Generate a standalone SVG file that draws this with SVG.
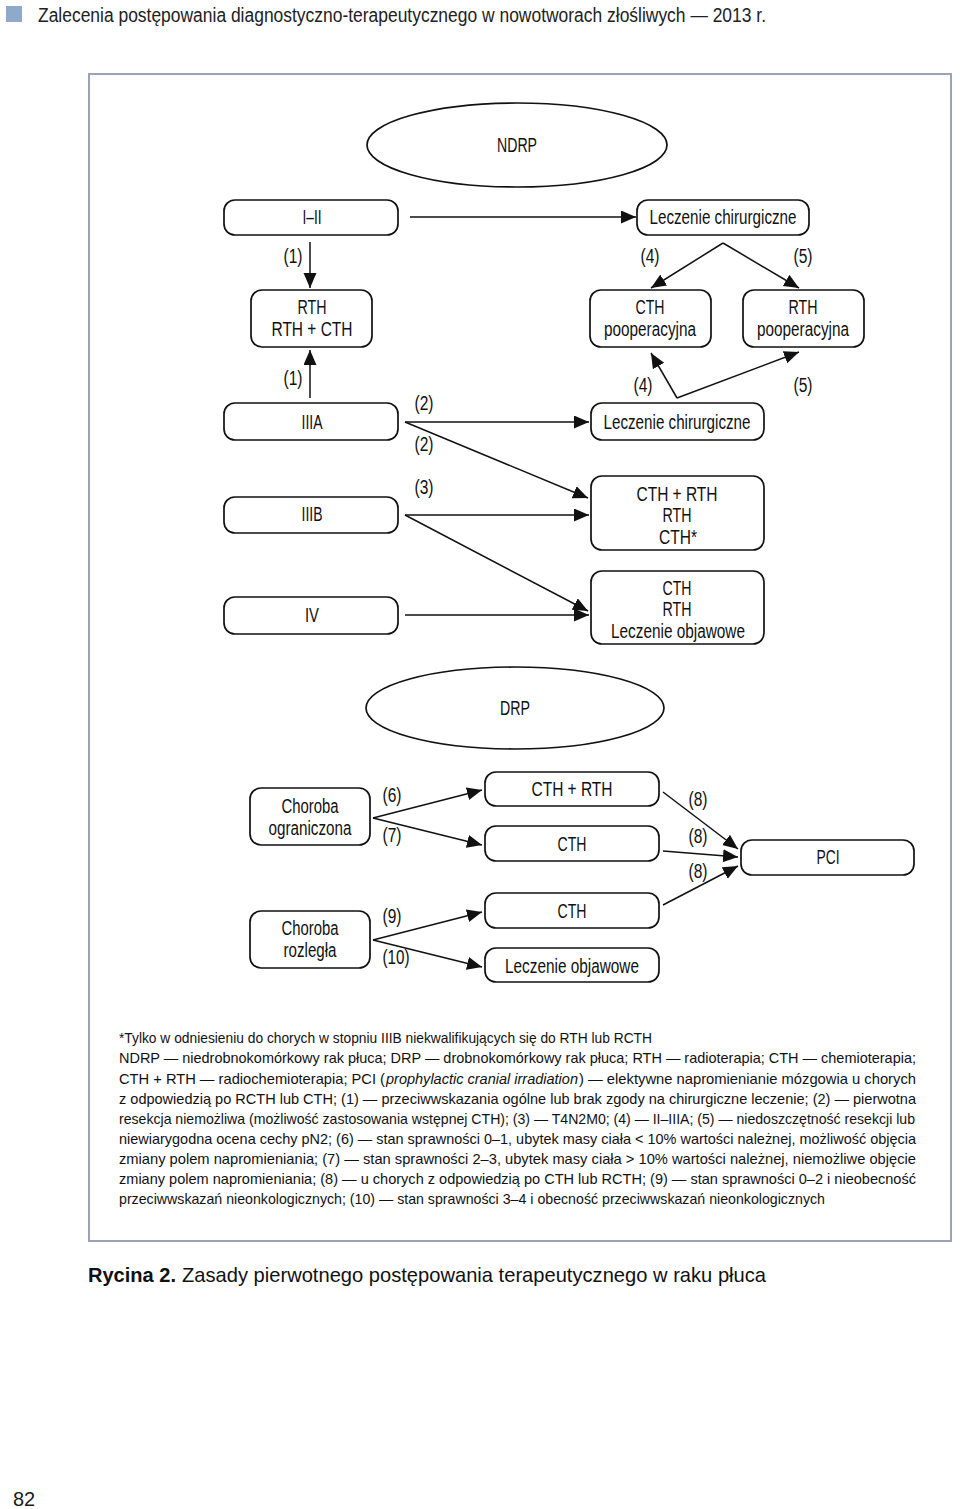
<svg xmlns="http://www.w3.org/2000/svg" width="960" height="1509" viewBox="0 0 960 1509">
<style>
.bg{fill:#ffffff}
.box{fill:#ffffff;stroke:#111;stroke-width:1.7}
.t{font-family:"Liberation Sans",Arial,sans-serif;font-size:20px;text-anchor:middle;fill:#111}
.lbl{font-family:"Liberation Sans",Arial,sans-serif;font-size:20px;text-anchor:middle;fill:#111}
.c{stroke:#111;stroke-width:1.5;fill:none;marker-end:url(#ah)}
.fn{font-family:"Liberation Sans",Arial,sans-serif;font-size:14.5px;fill:#111}
</style>
<defs>
<marker id="ah" markerUnits="userSpaceOnUse" markerWidth="16" markerHeight="14" refX="15" refY="6.5" orient="auto">
<path d="M0,0 L15,6.5 L0,13 z" fill="#111"/>
</marker>
</defs>
<rect class="bg" x="0" y="0" width="960" height="1509"/>

<g id="header">
<rect x="6" y="6" width="16" height="16" fill="#8ea9c9"/>
<text x="38" y="22" font-family="Liberation Sans, Arial, sans-serif" font-size="20" fill="#222" textLength="728" lengthAdjust="spacingAndGlyphs">Zalecenia postępowania diagnostyczno-terapeutycznego w nowotworach złośliwych — 2013 r.</text>
</g>

<rect id="frame" x="89" y="74" width="862" height="1167" fill="none" stroke="#9ba4b6" stroke-width="2"/>

<g id="connectors">
<line class="c" x1="410" y1="217" x2="636" y2="217"/>
<line class="c" x1="310" y1="242" x2="310" y2="288"/>
<line class="c" x1="723" y1="243" x2="651" y2="288"/>
<line class="c" x1="723" y1="243" x2="799" y2="288"/>
<line class="c" x1="310" y1="398" x2="310" y2="350"/>
<line class="c" x1="405" y1="422" x2="589" y2="422"/>
<polyline class="c" points="677,398 651,353"/>
<polyline class="c" points="677,398 799,352"/>
<line class="c" x1="405" y1="422" x2="588" y2="498"/>
<line class="c" x1="405" y1="515" x2="589" y2="515"/>
<line class="c" x1="405" y1="515" x2="588" y2="611"/>
<line class="c" x1="405" y1="615" x2="589" y2="615"/>
<line class="c" x1="373" y1="818" x2="482" y2="790"/>
<line class="c" x1="373" y1="818" x2="482" y2="845"/>
<line class="c" x1="373" y1="940" x2="482" y2="912"/>
<line class="c" x1="373" y1="940" x2="482" y2="967"/>
<line class="c" x1="663" y1="792" x2="738" y2="849"/>
<line class="c" x1="663" y1="851" x2="738" y2="857"/>
<line class="c" x1="663" y1="905" x2="738" y2="866"/>
</g>

<g id="edge-labels">
<text class="lbl" x="293" y="263" textLength="19" lengthAdjust="spacingAndGlyphs">(1)</text>
<text class="lbl" x="650" y="263" textLength="19" lengthAdjust="spacingAndGlyphs">(4)</text>
<text class="lbl" x="803" y="263" textLength="19" lengthAdjust="spacingAndGlyphs">(5)</text>
<text class="lbl" x="293" y="385" textLength="19" lengthAdjust="spacingAndGlyphs">(1)</text>
<text class="lbl" x="643" y="392" textLength="19" lengthAdjust="spacingAndGlyphs">(4)</text>
<text class="lbl" x="803" y="392" textLength="19" lengthAdjust="spacingAndGlyphs">(5)</text>
<text class="lbl" x="424" y="410" textLength="19" lengthAdjust="spacingAndGlyphs">(2)</text>
<text class="lbl" x="424" y="451" textLength="19" lengthAdjust="spacingAndGlyphs">(2)</text>
<text class="lbl" x="424" y="494" textLength="19" lengthAdjust="spacingAndGlyphs">(3)</text>
<text class="lbl" x="392" y="802" textLength="19" lengthAdjust="spacingAndGlyphs">(6)</text>
<text class="lbl" x="392" y="842" textLength="19" lengthAdjust="spacingAndGlyphs">(7)</text>
<text class="lbl" x="392" y="923" textLength="19" lengthAdjust="spacingAndGlyphs">(9)</text>
<text class="lbl" x="396" y="964" textLength="27" lengthAdjust="spacingAndGlyphs">(10)</text>
<text class="lbl" x="698" y="806" textLength="19" lengthAdjust="spacingAndGlyphs">(8)</text>
<text class="lbl" x="698" y="843" textLength="19" lengthAdjust="spacingAndGlyphs">(8)</text>
<text class="lbl" x="698" y="878" textLength="19" lengthAdjust="spacingAndGlyphs">(8)</text>
</g>

<g id="ndrp">
<ellipse class="box" cx="517" cy="145" rx="150" ry="42"/>
<text class="t" x="517" y="152" textLength="40" lengthAdjust="spacingAndGlyphs">NDRP</text>
</g>
<g id="n-i-ii">
<rect class="box" x="224" y="200" width="174" height="35" rx="11"/>
<text class="t" x="312" y="224" textLength="19" lengthAdjust="spacingAndGlyphs">I–II</text>
</g>
<g id="n-surgery-1">
<rect class="box" x="637" y="200" width="172" height="35" rx="11"/>
<text class="t" x="723" y="224" textLength="147" lengthAdjust="spacingAndGlyphs">Leczenie chirurgiczne</text>
</g>
<g id="n-rth-rthcth">
<rect class="box" x="251" y="290" width="121" height="57" rx="11"/>
<text class="t" x="312" y="314" textLength="29" lengthAdjust="spacingAndGlyphs">RTH</text>
<text class="t" x="312" y="336" textLength="81" lengthAdjust="spacingAndGlyphs">RTH + CTH</text>
</g>
<g id="n-cth-poop">
<rect class="box" x="590" y="290" width="121" height="57" rx="11"/>
<text class="t" x="650" y="314" textLength="29" lengthAdjust="spacingAndGlyphs">CTH</text>
<text class="t" x="650" y="336" textLength="92" lengthAdjust="spacingAndGlyphs">pooperacyjna</text>
</g>
<g id="n-rth-poop">
<rect class="box" x="743" y="290" width="121" height="57" rx="11"/>
<text class="t" x="803" y="314" textLength="29" lengthAdjust="spacingAndGlyphs">RTH</text>
<text class="t" x="803" y="336" textLength="92" lengthAdjust="spacingAndGlyphs">pooperacyjna</text>
</g>
<g id="n-iiia">
<rect class="box" x="224" y="403" width="174" height="37" rx="11"/>
<text class="t" x="312" y="429" textLength="21" lengthAdjust="spacingAndGlyphs">IIIA</text>
</g>
<g id="n-surgery-2">
<rect class="box" x="591" y="403" width="173" height="37" rx="11"/>
<text class="t" x="677" y="429" textLength="147" lengthAdjust="spacingAndGlyphs">Leczenie chirurgiczne</text>
</g>
<g id="n-iiib">
<rect class="box" x="224" y="497" width="174" height="36" rx="11"/>
<text class="t" x="312" y="521" textLength="21" lengthAdjust="spacingAndGlyphs">IIIB</text>
</g>
<g id="n-cthrth-rth-cth">
<rect class="box" x="591" y="476" width="173" height="74" rx="11"/>
<text class="t" x="677" y="501" textLength="81" lengthAdjust="spacingAndGlyphs">CTH + RTH</text>
<text class="t" x="677" y="522" textLength="29" lengthAdjust="spacingAndGlyphs">RTH</text>
<text class="t" x="678" y="544" textLength="38" lengthAdjust="spacingAndGlyphs">CTH*</text>
</g>
<g id="n-iv">
<rect class="box" x="224" y="597" width="174" height="37" rx="11"/>
<text class="t" x="312" y="622" textLength="14" lengthAdjust="spacingAndGlyphs">IV</text>
</g>
<g id="n-cth-rth-obj">
<rect class="box" x="591" y="571" width="173" height="73" rx="11"/>
<text class="t" x="677" y="595" textLength="29" lengthAdjust="spacingAndGlyphs">CTH</text>
<text class="t" x="677" y="616" textLength="29" lengthAdjust="spacingAndGlyphs">RTH</text>
<text class="t" x="678" y="638" textLength="134" lengthAdjust="spacingAndGlyphs">Leczenie objawowe</text>
</g>

<g id="drp">
<ellipse class="box" cx="515" cy="708" rx="149" ry="41"/>
<text class="t" x="515" y="715" textLength="30" lengthAdjust="spacingAndGlyphs">DRP</text>
</g>
<g id="n-ograniczona">
<rect class="box" x="250" y="788" width="120" height="57" rx="11"/>
<text class="t" x="310" y="813" textLength="57" lengthAdjust="spacingAndGlyphs">Choroba</text>
<text class="t" x="310" y="835" textLength="83" lengthAdjust="spacingAndGlyphs">ograniczona</text>
</g>
<g id="n-rozlegla">
<rect class="box" x="250" y="911" width="120" height="57" rx="11"/>
<text class="t" x="310" y="935" textLength="57" lengthAdjust="spacingAndGlyphs">Choroba</text>
<text class="t" x="310" y="957" textLength="53" lengthAdjust="spacingAndGlyphs">rozległa</text>
</g>
<g id="n-drp-cthrth">
<rect class="box" x="485" y="772" width="174" height="34" rx="11"/>
<text class="t" x="572" y="796" textLength="81" lengthAdjust="spacingAndGlyphs">CTH + RTH</text>
</g>
<g id="n-drp-cth1">
<rect class="box" x="485" y="826" width="174" height="35" rx="11"/>
<text class="t" x="572" y="851" textLength="29" lengthAdjust="spacingAndGlyphs">CTH</text>
</g>
<g id="n-drp-cth2">
<rect class="box" x="485" y="893" width="174" height="35" rx="11"/>
<text class="t" x="572" y="918" textLength="29" lengthAdjust="spacingAndGlyphs">CTH</text>
</g>
<g id="n-drp-obj">
<rect class="box" x="485" y="948" width="174" height="34" rx="11"/>
<text class="t" x="572" y="973" textLength="134" lengthAdjust="spacingAndGlyphs">Leczenie objawowe</text>
</g>
<g id="n-pci">
<rect class="box" x="741" y="840" width="173" height="35" rx="11"/>
<text class="t" x="828" y="864" textLength="23" lengthAdjust="spacingAndGlyphs">PCI</text>
</g>

<g id="footnote">
<text class="fn" x="119" y="1043" textLength="533" lengthAdjust="spacingAndGlyphs">*Tylko w odniesieniu do chorych w stopniu IIIB niekwalifikujących się do RTH lub RCTH</text>
<text class="fn" x="119" y="1063" textLength="797" lengthAdjust="spacingAndGlyphs">NDRP — niedrobnokomórkowy rak płuca; DRP — drobnokomórkowy rak płuca; RTH — radioterapia; CTH — chemioterapia;</text>
<text class="fn" x="119" y="1084" textLength="266" lengthAdjust="spacingAndGlyphs">CTH + RTH — radiochemioterapia; PCI (</text>
<text class="fn" x="386" y="1084" textLength="192" lengthAdjust="spacingAndGlyphs" font-style="italic">prophylactic cranial irradiation</text>
<text class="fn" x="579" y="1084" textLength="337" lengthAdjust="spacingAndGlyphs">) — elektywne napromienianie mózgowia u chorych</text>
<text class="fn" x="119" y="1104" textLength="797" lengthAdjust="spacingAndGlyphs">z odpowiedzią po RCTH lub CTH; (1) — przeciwwskazania ogólne lub brak zgody na chirurgiczne leczenie; (2) — pierwotna</text>
<text class="fn" x="119" y="1124" textLength="796" lengthAdjust="spacingAndGlyphs">resekcja niemożliwa (możliwość zastosowania wstępnej CTH); (3) — T4N2M0; (4) — II–IIIA; (5) — niedoszczętność resekcji lub</text>
<text class="fn" x="119" y="1144" textLength="797" lengthAdjust="spacingAndGlyphs">niewiarygodna ocena cechy pN2; (6) — stan sprawności 0–1, ubytek masy ciała &lt; 10% wartości należnej, możliwość objęcia</text>
<text class="fn" x="119" y="1164" textLength="797" lengthAdjust="spacingAndGlyphs">zmiany polem napromieniania; (7) — stan sprawności 2–3, ubytek masy ciała &gt; 10% wartości należnej, niemożliwe objęcie</text>
<text class="fn" x="119" y="1184" textLength="797" lengthAdjust="spacingAndGlyphs">zmiany polem napromieniania; (8) — u chorych z odpowiedzią po CTH lub RCTH; (9) — stan sprawności 0–2 i nieobecność</text>
<text class="fn" x="119" y="1204" textLength="706" lengthAdjust="spacingAndGlyphs">przeciwwskazań nieonkologicznych; (10) — stan sprawności 3–4 i obecność przeciwwskazań nieonkologicznych</text>
</g>

<g id="caption">
<text x="88" y="1282" font-family="Liberation Sans, Arial, sans-serif" font-size="21" font-weight="bold" fill="#111" textLength="88" lengthAdjust="spacingAndGlyphs">Rycina 2.</text>
<text x="182" y="1282" font-family="Liberation Sans, Arial, sans-serif" font-size="21" fill="#111" textLength="584" lengthAdjust="spacingAndGlyphs">Zasady pierwotnego postępowania terapeutycznego w raku płuca</text>
</g>

<text id="page-number" x="13" y="1506" font-family="Liberation Sans, Arial, sans-serif" font-size="20" fill="#1a1a1a">82</text>
</svg>
